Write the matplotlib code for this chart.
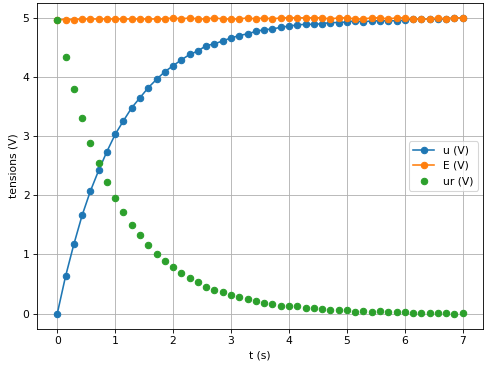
import numpy as np
import matplotlib
matplotlib.use("Agg")
import matplotlib.pyplot as plt

# temps (s) : 50 points de 0 a 7 s
t = np.linspace(0, 7, 50)

# tension aux bornes du condensateur u (V)
u = [0.00, 0.63, 1.17, 1.66, 2.07, 2.42, 2.74, 3.03, 3.26, 3.48,
     3.65, 3.82, 3.96, 4.09, 4.19, 4.29, 4.38, 4.44, 4.53, 4.56,
     4.61, 4.66, 4.70, 4.73, 4.77, 4.80, 4.81, 4.84, 4.86, 4.88,
     4.89, 4.89, 4.90, 4.92, 4.92, 4.93, 4.95, 4.93, 4.95, 4.95,
     4.95, 4.95, 4.96, 4.98, 4.98, 4.98, 4.98, 4.98, 5.00, 5.00]

# tension du generateur E (V)
E = [4.97, 4.97, 4.97, 4.98, 4.98, 4.98, 4.98, 4.98, 4.98, 4.98,
     4.98, 4.98, 4.98, 4.98, 5.00, 4.98, 5.00, 4.98, 4.98, 5.00,
     4.98, 4.98, 4.98, 5.00, 4.98, 5.00, 4.98, 5.00, 5.00, 5.00,
     5.00, 5.00, 5.00, 4.98, 5.00, 5.00, 4.98, 4.98, 5.00, 5.00,
     4.98, 5.00, 5.00, 4.98, 4.98, 4.98, 5.00, 4.98, 5.00, 5.00]

# tension aux bornes de la resistance ur (V)
ur = [4.97, 4.33, 3.79, 3.30, 2.89, 2.54, 2.22, 1.95, 1.71, 1.49,
      1.33, 1.16, 1.01, 0.89, 0.79, 0.69, 0.60, 0.53, 0.45, 0.40,
      0.37, 0.31, 0.28, 0.25, 0.21, 0.18, 0.16, 0.13, 0.13, 0.12,
      0.10, 0.10, 0.08, 0.06, 0.06, 0.06, 0.03, 0.045, 0.03, 0.045,
      0.03, 0.03, 0.03, 0.01, 0.01, 0.01, 0.01, 0.01, -0.01, 0.01]

dpi = 77
fig = plt.figure(figsize=(495 / dpi, 365 / dpi), dpi=dpi)
ax = fig.add_axes([37 / 495, 1 - 329 / 365, (483 - 37) / 495, (329 - 3) / 365])

ax.plot(t, u, 'o-', label="u (V)")
ax.plot(t, E, 'o-', label="E (V)")
ax.plot(t, ur, 'o', label="ur (V)")

ax.set_xlabel('t (s)')
ax.set_ylabel('tensions (V)')
ax.legend(loc='center right')
ax.grid(True)

fig.savefig("out.png", dpi=dpi)
